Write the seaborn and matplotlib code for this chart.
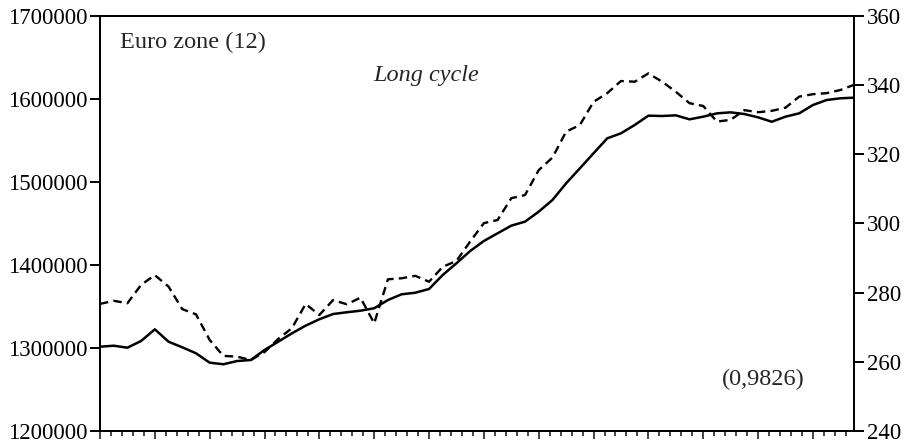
import numpy as np
import pandas as pd
import matplotlib
matplotlib.use("Agg")
import matplotlib.pyplot as plt
import seaborn as sns

# quarterly observations (index 0..55)
quarter = list(range(56))

# solid line, left axis
long_cycle_left = [1301900, 1303100, 1300700, 1308800, 1322800, 1307900, 1301200, 1294000,
                   1282700, 1280800, 1284700, 1285900, 1298000, 1307900, 1318000, 1327200,
                   1334900, 1341200, 1343300, 1345200, 1348100, 1358000, 1364900, 1366800,
                   1371300, 1388100, 1402200, 1416900, 1429000, 1438200, 1447400, 1452200,
                   1464200, 1478200, 1498300, 1516300, 1534400, 1552400, 1558400, 1568400,
                   1579600, 1579200, 1580000, 1575200, 1578400, 1582400, 1583600, 1581600,
                   1577600, 1572300, 1578400, 1582400, 1592400, 1598400, 1600500, 1601200]

# dashed line, right axis
long_cycle_right = [276.8, 277.7, 277.0, 282.3, 285.1, 281.8, 275.3, 273.8,
                    266.4, 261.8, 261.6, 260.6, 262.9, 266.7, 269.8, 276.8,
                    273.6, 277.9, 276.7, 278.6, 271.2, 283.9, 284.2, 284.9,
                    283.2, 287.5, 289.2, 294.8, 300.1, 301.0, 307.3, 308.2,
                    315.4, 319.0, 326.5, 328.4, 335.1, 337.6, 341.1, 340.9,
                    343.3, 340.9, 338.0, 334.7, 333.9, 329.4, 329.9, 332.7,
                    332.1, 332.5, 333.4, 336.6, 337.3, 337.6, 338.5, 340.0]

left_ticks = [1200000, 1300000, 1400000, 1500000, 1600000, 1700000]
right_ticks = [240, 260, 280, 300, 320, 340, 360]

df = pd.DataFrame({"q": quarter, "left": long_cycle_left, "right": long_cycle_right})

sns.set_style("ticks")
plt.rcParams["font.family"] = ["Liberation Serif", "DejaVu Serif"]

fig = plt.figure(figsize=(9.14, 4.43), dpi=100)
ax = fig.add_axes([0.1094, 0.026, 0.8250, 0.939])
ax2 = ax.twinx()

sns.lineplot(data=df, x="q", y="left", ax=ax, color="black", linewidth=1.8)
sns.lineplot(data=df, x="q", y="right", ax=ax2, color="black", linewidth=1.7,
             linestyle=(0, (3.6, 2.2)))

ax.set_xlim(0, 55)
ax.set_ylim(left_ticks[0], left_ticks[-1])
ax2.set_ylim(right_ticks[0], right_ticks[-1])

ax.set_yticks(left_ticks)
ax.set_yticklabels([str(v) for v in left_ticks])
ax2.set_yticks(right_ticks)
ax2.set_yticklabels([str(v) for v in right_ticks])

# x ticks: major every 4 quarters, minor in between, no labels
ax.set_xticks(np.arange(0, 53, 4))
ax.set_xticks([m for m in np.arange(0, 55, 0.8) if abs(m / 4 - round(m / 4)) > 0.01], minor=True)
ax.set_xticklabels([])

for a in (ax, ax2):
    a.set_xlabel("")
    a.set_ylabel("")
    for s in a.spines.values():
        s.set_visible(True)
        s.set_linewidth(1.4)
        s.set_color("black")

ax.tick_params(axis="y", direction="out", length=7, width=1.4, pad=2, labelsize=16.5, colors="black")
ax2.tick_params(axis="y", direction="out", length=7, width=1.4, pad=2, labelsize=16.5, colors="black")
ax.tick_params(axis="x", which="major", direction="out", length=6, width=1.2)
ax.tick_params(axis="x", which="minor", direction="out", length=3.5, width=1.2)

ax.text(0.027, 0.935, "Euro zone (12)", transform=ax.transAxes, fontsize=17.5,
        ha="left", va="center")
ax.text(0.363, 0.855, "Long cycle", transform=ax.transAxes, fontsize=17.5,
        style="italic", ha="left", va="center")
ax.text(0.825, 0.125, "(0,9826)", transform=ax.transAxes, fontsize=17.5,
        ha="left", va="center")

fig.savefig("out.png", dpi=100)
